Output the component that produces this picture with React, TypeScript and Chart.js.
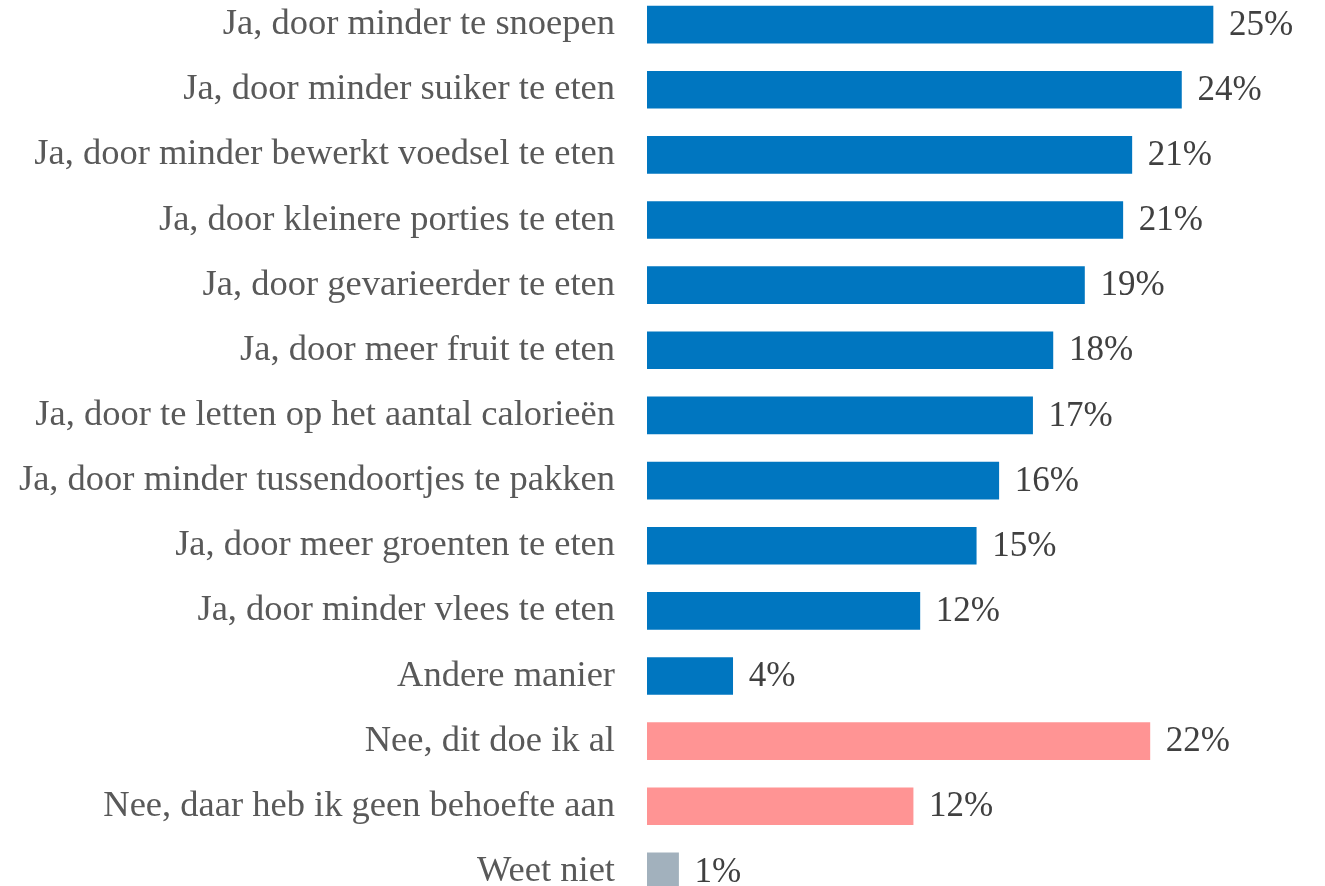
import React, { useEffect, useRef } from "react";
import { Chart, registerables } from "chart.js";

Chart.register(...registerables);

const categories: string[] = [
  "Ja, door minder te snoepen",
  "Ja, door minder suiker te eten",
  "Ja, door minder bewerkt voedsel te eten",
  "Ja, door kleinere porties te eten",
  "Ja, door gevarieerder te eten",
  "Ja, door meer fruit te eten",
  "Ja, door te letten op het aantal calorieën",
  "Ja, door minder tussendoortjes te pakken",
  "Ja, door meer groenten te eten",
  "Ja, door minder vlees te eten",
  "Andere manier",
  "Nee, dit doe ik al",
  "Nee, daar heb ik geen behoefte aan",
  "Weet niet",
];

const values: number[] = [25.1, 23.7, 21.5, 21.1, 19.4, 18.0, 17.1, 15.6, 14.6, 12.1, 3.8, 22.3, 11.8, 1.4];

const valueLabels: string[] = ["25%", "24%", "21%", "21%", "19%", "18%", "17%", "16%", "15%", "12%", "4%", "22%", "12%", "1%"];

const groups: string[] = ["ja", "ja", "ja", "ja", "ja", "ja", "ja", "ja", "ja", "ja", "ja", "nee", "nee", "weet"];

const groupColors: Record<string, string> = {
  ja: "#0076C0",
  nee: "#FF9494",
  weet: "#A2B1BD",
};

const FONT = "'Liberation Serif', 'Times New Roman', serif";

export default function App() {
  const canvasRef = useRef<HTMLCanvasElement | null>(null);

  useEffect(() => {
    if (!canvasRef.current) return;
    const valueLabelPlugin = {
      id: "valueLabels",
      afterDatasetsDraw(chart: any) {
        const ctx = chart.ctx;
        const meta = chart.getDatasetMeta(0);
        ctx.save();
        ctx.font = `35px ${FONT}`;
        ctx.fillStyle = "#404040";
        ctx.textAlign = "left";
        ctx.textBaseline = "middle";
        meta.data.forEach((bar: any, i: number) => {
          ctx.fillText(valueLabels[i], bar.x + 16, bar.y + 1);
        });
        ctx.restore();
      },
    };

    const chart = new Chart(canvasRef.current, {
      type: "bar",
      data: {
        labels: categories,
        datasets: [
          {
            data: values,
            backgroundColor: groups.map((g) => groupColors[g]),
            borderWidth: 0,
            barThickness: 37,
          },
        ],
      },
      options: {
        indexAxis: "y",
        animation: false,
        responsive: false,
        maintainAspectRatio: false,
        layout: { padding: { left: 0, right: 1.5, top: 0, bottom: 0 } },
        plugins: {
          legend: { display: false },
          tooltip: { enabled: false },
        },
        scales: {
          x: {
            display: false,
            min: 0,
            max: 30,
          },
          y: {
            grid: { display: false, drawTicks: false },
            border: { display: false },
            ticks: {
              autoSkip: false,
              padding: 32,
              color: "#595959",
              font: { family: FONT, size: 36.5 },
            },
            afterFit: (scale: any) => {
              scale.width = 647;
              scale.paddingTop = 0;
              scale.paddingBottom = 0;
            },
          },
        },
      },
      plugins: [valueLabelPlugin],
    });
    return () => chart.destroy();
  }, []);

  return (
    <div style={{ position: "fixed", left: 0, top: 0, width: 1325, height: 886, overflow: "hidden", background: "#fff" }}>
      <div style={{ position: "absolute", left: 0, top: -8, width: 1325, height: 912 }}>
        <canvas ref={canvasRef} width={1325} height={912} style={{ width: 1325, height: 912, display: "block" }} />
      </div>
    </div>
  );
}
